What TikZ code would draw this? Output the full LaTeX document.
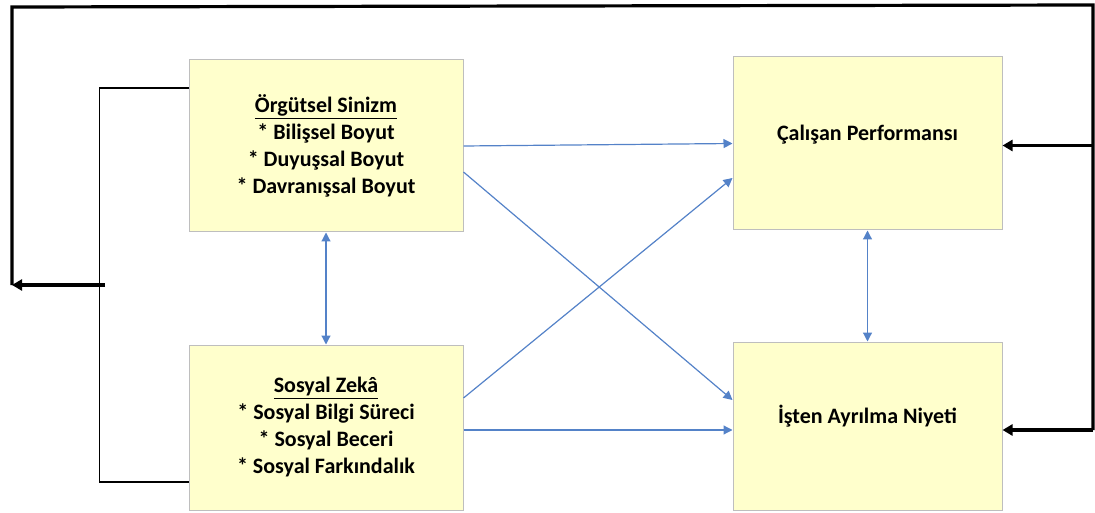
\documentclass[tikz,border=0pt]{standalone}
\usepackage{fontspec}
\setmainfont{Carlito}
\usetikzlibrary{arrows.meta,positioning}
\definecolor{boxfill}{RGB}{255,255,204}
\definecolor{boxline}{RGB}{190,190,190}
\definecolor{lnk}{RGB}{84,130,200}
\tikzset{
  kutu/.style={draw=boxline,fill=boxfill,line width=1pt,align=center,
    font=\fontsize{22}{27}\selectfont\bfseries,inner sep=0pt},
  tek/.style={text height=15pt,text depth=20pt},
  ok/.style={lnk,line width=1.2pt,-{Triangle[length=9pt,width=9pt]}},
  cift/.style={lnk,line width=1.2pt,
    {Triangle[length=9pt,width=9pt]}-{Triangle[length=9pt,width=9pt]}},
  geri/.style={black,line width=3.2pt,line join=miter},
  geriok/.style={geri,-{Triangle[length=10pt,width=11pt]}},
  ince/.style={black,line width=1.3pt},
}

\begin{document}
\begin{tikzpicture}[x=1pt,y=-1pt]
  \useasboundingbox (0,0) rectangle (1095,513);
  \node[kutu,minimum width=274pt,minimum height=172pt] (sinizm) at (326,146)
    {\underline{Örgütsel Sinizm}\\{*} Bilişsel Boyut\\{*} Duyuşsal Boyut\\{*} Davranışsal Boyut};
  \node[kutu,minimum width=274pt,minimum height=165pt] (zeka) at (326,427.5)
    {\underline{Sosyal Zekâ}\\{*} Sosyal Bilgi Süreci\\{*} Sosyal Beceri\\{*} Sosyal Farkındalık};
  \node[kutu,tek,minimum width=269pt,minimum height=173pt] (performans) at (867.5,143.5)
    {Çalışan Performansı};
  \node[kutu,tek,minimum width=269pt,minimum height=168pt] (niyet) at (867.5,426)
    {İşten Ayrılma Niyeti};
  % iliskiler
  \draw[ok] (sinizm.east) -- (performans.west);
  \draw[ok] ([yshift=-26pt]sinizm.east) -- ([yshift=26pt]niyet.west);
  \draw[ok] ([yshift=29.5pt]zeka.east) -- ([yshift=-34.5pt]performans.west);
  \draw[ok] ([yshift=-2.5pt]zeka.east) -- ([yshift=-4pt]niyet.west);
  \draw[cift] (sinizm.south) -- (zeka.north);
  \draw[cift] (performans.south) -- (performans.south |- niyet.north);
  % sol ayrac
  \draw[ince] ([yshift=58pt]sinizm.west) -- ++(-89,0) |- ([yshift=-54.5pt]zeka.west);
  % geri bildirim
  \coordinate (kose1) at (12,7);
  \coordinate (kose2) at (1093,5);
  \coordinate (sagalt) at (1093,430);
  \coordinate (solok) at (12,285);
  \coordinate (solbas) at (105,285);
  \draw[geri] (sagalt) -- (kose2) -- (kose1) -- (solok);
  \draw[geriok] (solbas) -- (solok);
  \draw[geriok] (sagalt) -- ([yshift=-4pt]niyet.east);
  \draw[geriok] ([yshift=-2pt]kose2 |- performans.east) -- ([yshift=-2pt]performans.east);
\end{tikzpicture}
\end{document}
